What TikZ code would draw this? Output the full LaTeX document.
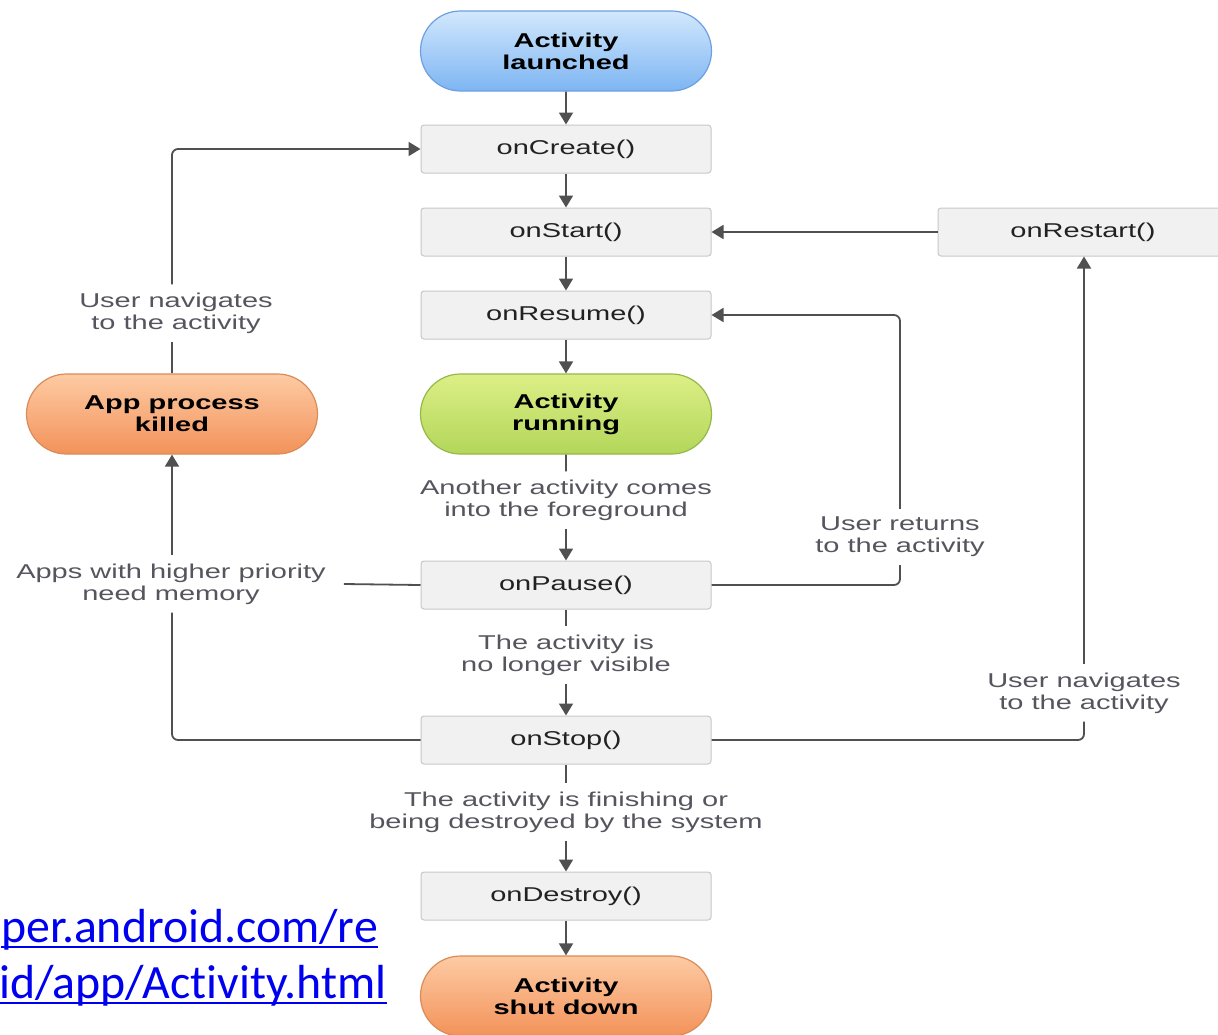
\documentclass[tikz,border=0pt]{standalone}
\usepackage{fontspec}
\setmainfont{Liberation Sans}
\newfontfamily\diagfont[FakeStretch=1.45]{Liberation Sans}
\newfontfamily\urlfont[Ligatures=NoCommon]{Carlito}
\usetikzlibrary{arrows.meta,shapes.misc}
\definecolor{boxfill}{HTML}{F1F1F1}
\definecolor{boxline}{HTML}{C8C8C8}
\definecolor{boxtext}{HTML}{222222}
\definecolor{lbltext}{HTML}{55555E}
\definecolor{conn}{HTML}{505050}
\definecolor{blueTop}{HTML}{D2E8FD}
\definecolor{blueBot}{HTML}{7DB5F2}
\definecolor{blueLine}{HTML}{6E9FE0}
\definecolor{greenTop}{HTML}{DCEF86}
\definecolor{greenBot}{HTML}{B3D65A}
\definecolor{greenLine}{HTML}{95B84A}
\definecolor{orangeTop}{HTML}{FDCBA3}
\definecolor{orangeBot}{HTML}{F3925A}
\definecolor{orangeLine}{HTML}{D98C58}
\definecolor{urlblue}{HTML}{0000F0}
\newsavebox\ulbox
\newcommand\myul[1]{\sbox\ulbox{#1}\rlap{\rule[-6pt]{\wd\ulbox}{2.4pt}}\usebox\ulbox}
\tikzset{
  stepbox/.style={rectangle, rounded corners=3pt, draw=boxline, line width=1pt, fill=boxfill,
    minimum width=290pt, minimum height=48pt, text=boxtext, inner sep=0pt,
    font=\diagfont\fontsize{20}{22}\selectfont},
  pill/.style={rounded rectangle, draw=#1Line, line width=1.2pt, top color=#1Top, bottom color=#1Bot,
    minimum width=291pt, minimum height=80pt, text=black, align=center, inner sep=0pt,
    font=\diagfont\bfseries\fontsize{20}{22}\selectfont},
  lbl/.style={align=center, text=lbltext, inner sep=8pt,
    font=\diagfont\fontsize{20}{22}\selectfont},
  conline/.style={draw=conn, line width=1.8pt, rounded corners=6pt},
  arr/.style={conline, -{Triangle[width=14pt,length=12pt]}}
}
\begin{document}
\begin{tikzpicture}[x=1pt,y=-1pt]
\useasboundingbox (0,0) rectangle (1218,1034);
\clip (0,0) rectangle (1218,1034);
\fill[white] (0,0) rectangle (1218,1034);
% nodes
\node[pill=blue] (launched) at (566,51) {Activity\\launched};
\node[stepbox] (create) at (566,149) {onCreate()};
\node[stepbox] (start) at (566,232) {onStart()};
\node[stepbox] (restart) at (1083,232) {onRestart()};
\node[stepbox] (resume) at (566,315) {onResume()};
\node[pill=green] (running) at (566,414) {Activity\\running};
\node[pill=orange] (killed) at (172,414) {App process\\killed};
\node[stepbox] (pause) at (566,585) {onPause()};
\node[stepbox] (stop) at (566,740) {onStop()};
\node[stepbox] (destroy) at (566,896) {onDestroy()};
\node[pill=orange] (shutdown) at (566,996) {Activity\\shut down};
% labels
\node[lbl] (nav1) at (176,313) {User navigates\\to the activity};
\node[lbl] (another) at (566,500) {Another activity comes\\into the foreground};
\node[lbl] (ret) at (900,537) {User returns\\to the activity};
\node[lbl, inner xsep=18pt] (apps) at (171,584) {Apps with higher priority\\need memory};
\node[lbl] (notvis) at (566,655) {The activity is\\no longer visible};
\node[lbl] (nav2) at (1084,693) {User navigates\\to the activity};
\node[lbl] (finish) at (566,812) {The activity is finishing or\\being destroyed by the system};
% main column
\draw[arr] (launched) -- (create);
\draw[arr] (create) -- (start);
\draw[arr] (start) -- (resume);
\draw[arr] (resume) -- (running);
\draw[conline] (running) -- (another);
\draw[arr] (another) -- (pause);
\draw[conline] (pause) -- (notvis);
\draw[arr] (notvis) -- (stop);
\draw[conline] (stop) -- (finish);
\draw[arr] (finish) -- (destroy);
\draw[arr] (destroy) -- (shutdown);
% right side
\draw[arr] (restart.west) -- (start.east);
\draw[conline] (pause.east) -| (ret.south);
\draw[arr] (ret.north) |- (resume.east);
\draw[conline] (stop.east) -| (nav2.south);
\draw[arr] (nav2.north) -- (restart.south -| nav2.north);
% left side
\draw[conline] (pause.west) -- (apps.east);
\draw[conline] (stop.west) -| (apps.south -| killed.south);
\draw[arr] (apps.north -| killed.south) -- (killed.south);
\draw[conline] (killed.north) -- (nav1.south -| killed.north);
\draw[arr] (nav1.north -| killed.north) |- (create.west);
% url
\node[anchor=base west, text=urlblue, inner sep=0pt, font=\urlfont\fontsize{47.8}{50}\selectfont] (url1) at (1,942) {\myul{per.android.com/re}};
\node[anchor=base west, text=urlblue, inner sep=0pt, font=\urlfont\fontsize{47.8}{50}\selectfont] (url2) at (-1,998) {\myul{id/app/Activity.html}};
\end{tikzpicture}
\end{document}
